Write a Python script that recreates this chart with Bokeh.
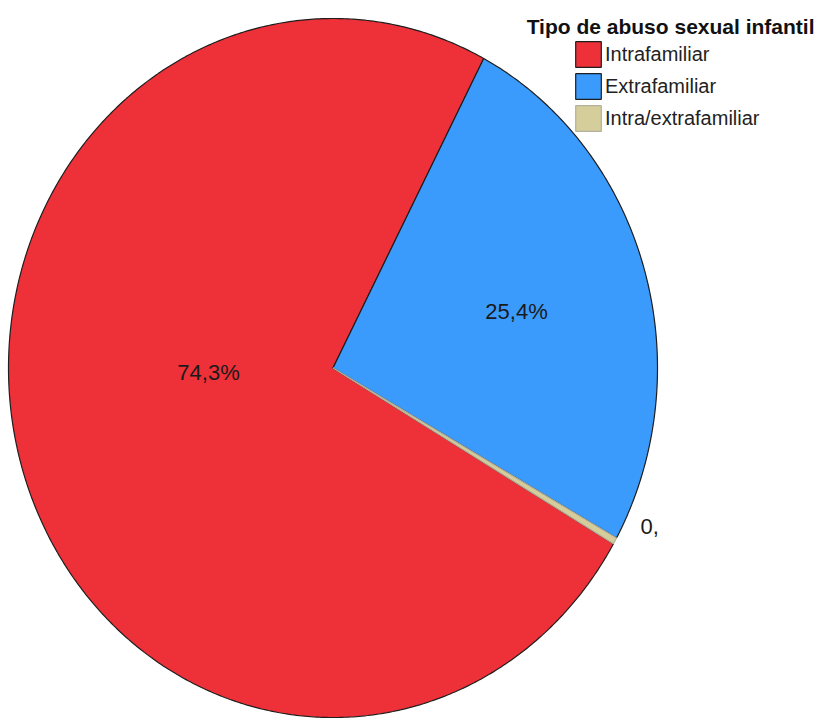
import numpy as np
from bokeh.plotting import figure
from bokeh.models import ColumnDataSource, Label, Legend, LegendItem, Range1d
from bokeh.embed import file_html
from bokeh.resources import INLINE

# ---- data ----
categories = ["Intrafamiliar", "Extrafamiliar", "Intra/extrafamiliar"]
percentages = [74.3, 25.4, 0.3]
slice_labels = ["74,3%", "25,4%", "0,"]
legend_title = "Tipo de abuso sexual infantil"

# ---- style / layout ----
colors = ["#EE3039", "#3A9BFC", "#D5CE9B"]
edge_colors = ["#1E1E1E", "#1E1E1E", "#B5B09A"]
W, H = 816, 719
CX, CY = 332.5, 367.5      # pie centre in pixels (from top-left)
RX, RY = 324.5, 349.5      # pie radii in pixels (slightly elliptical)
START_DEG = -30.2          # where the first slice begins; slices run clockwise
label_pos = [(208, 372, "center"), (516, 311, "center"), (640, 526, "left")]

p = figure(width=W, height=H, output_backend="svg", toolbar_location=None,
           x_range=Range1d(-CX / RX, (W - CX) / RX),
           y_range=Range1d((CY - H) / RY, CY / RY),
           x_axis_location=None, y_axis_location=None,
           min_border=0, min_border_left=0, min_border_right=0,
           min_border_top=0, min_border_bottom=0)
p.grid.visible = False
p.outline_line_color = None
p.background_fill_color = "white"
p.border_fill_color = "white"

total = float(sum(percentages))
xs, ys = [], []
angle = np.deg2rad(START_DEG)
for v in percentages:
    span = v / total * 2 * np.pi
    n = max(4, int(720 * v / total))
    t = np.linspace(angle, angle - span, n)
    xs.append(np.concatenate([[0.0], np.cos(t)]).tolist())
    ys.append(np.concatenate([[0.0], np.sin(t)]).tolist())
    angle -= span

src = ColumnDataSource(dict(xs=xs, ys=ys, color=colors, line_color=edge_colors,
                            name=categories))
r = p.patches(xs="xs", ys="ys", fill_color="color", line_color="line_color",
              line_width=1.2, source=src)

for (lx, ly, al), txt in zip(label_pos, slice_labels):
    p.add_layout(Label(x=lx, y=H - ly, x_units="screen", y_units="screen",
                       text=txt, text_align=al, text_baseline="middle",
                       text_font="Liberation Sans", text_font_size="22px",
                       text_color="#1a1a1a"))

items = [LegendItem(label=c, renderers=[r], index=i) for i, c in enumerate(categories)]
legend = Legend(items=items, location=(572, 585), orientation="vertical",
                glyph_width=32, glyph_height=32, label_height=32, spacing=0,
                padding=0, margin=0, label_standoff=1,
                border_line_alpha=0, background_fill_alpha=0,
                label_text_font="Liberation Sans", label_text_font_size="20px",
                label_text_color="#222222")
p.add_layout(legend)

p.add_layout(Label(x=814, y=H - 26, x_units="screen", y_units="screen",
                   text=legend_title, text_align="right", text_baseline="alphabetic",
                   text_font="Liberation Sans", text_font_size="21px",
                   text_font_style="bold", text_color="#111111"))

open("out.html", "w").write(file_html(p, INLINE))
